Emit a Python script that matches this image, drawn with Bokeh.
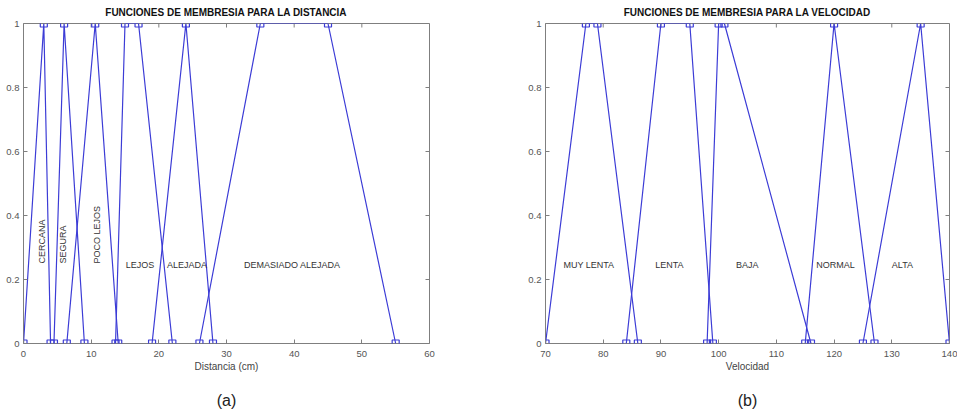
import math
from bokeh.plotting import figure
from bokeh.layouts import row
from bokeh.models import ColumnDataSource, FixedTicker, LinearAxis, Range1d
from bokeh.core.properties import value
from bokeh.embed import file_html
from bokeh.resources import INLINE

# ---------------- data: distance membership functions ----------------
dist_names = ["CERCANA", "SEGURA", "POCO LEJOS", "LEJOS", "ALEJADA", "DEMASIADO ALEJADA"]
dist_x = [
    [0, 3, 4],
    [4.5, 6, 9],
    [6.4, 10.6, 14],
    [13.6, 15, 17, 22],
    [19, 24, 28],
    [26, 35, 45, 55],
]
dist_y = [
    [0, 1, 0],
    [0, 1, 0],
    [0, 1, 0],
    [0, 1, 1, 0],
    [0, 1, 0],
    [0, 1, 1, 0],
]
dist_label_x = [2.8, 5.9, 10.8, 15.1, 21.2, 32.6]
dist_label_y = [0.25, 0.25, 0.25, 0.246, 0.246, 0.246]
dist_label_rot = [90, 90, 90, 0, 0, 0]
dist_xticks = [0, 10, 20, 30, 40, 50, 60]

# ---------------- data: speed membership functions ----------------
vel_names = ["MUY LENTA", "LENTA", "BAJA", "NORMAL", "ALTA"]
vel_x = [
    [70, 77, 79, 86],
    [84, 90, 95, 99],
    [98, 100, 101, 116],
    [115, 120, 127],
    [125, 135, 140],
]
vel_y = [
    [0, 1, 1, 0],
    [0, 1, 1, 0],
    [0, 1, 1, 0],
    [0, 1, 0],
    [0, 1, 0],
]
vel_label_x = [73.1, 89.0, 103.0, 116.9, 130.0]
vel_label_y = [0.246, 0.246, 0.246, 0.246, 0.246]
vel_xticks = [70, 80, 90, 100, 110, 120, 130, 140]

yticks = [0, 0.2, 0.4, 0.6, 0.8, 1]
ytick_labels = {0: "0", 0.2: "0.2", 0.4: "0.4", 0.6: "0.6", 0.8: "0.8", 1: "1"}

# horizontal centre (in x data units) of the (a)/(b) captions
caption_x = [31.5, 103.8]

FONT = "Liberation Sans"
BLUE = "#3c3cd6"
FRAME = "#7f7f7f"
TICKLBL = "#555555"
TICK_LEN = 4      # px, inward tick length
FRAME_H = 320     # px


def style_axis(ax, ticker):
    ax.ticker = ticker
    ax.major_tick_in = TICK_LEN
    ax.major_tick_out = 0
    ax.minor_tick_line_color = None
    ax.major_tick_line_color = FRAME
    ax.axis_line_color = None
    ax.major_label_text_font = FONT
    ax.major_label_text_font_size = "9.5px"
    ax.major_label_text_color = TICKLBL


def make_panel(title, xlabel, sub, sub_x, xs, ys, xr, xticks, lbl_x, lbl_y, lbl_rot, names,
               width, mbl, mbr):
    p = figure(width=width, height=414, output_backend="svg", toolbar_location=None,
               x_range=Range1d(*xr), y_range=Range1d(0, 1),
               min_border_left=mbl, min_border_right=mbr,
               min_border_top=23, min_border_bottom=71,
               x_axis_location=None, y_axis_location=None)
    p.grid.visible = False
    p.outline_line_color = FRAME
    p.outline_line_width = 1
    p.background_fill_color = "white"
    p.border_fill_color = "white"

    p.title.text = title
    p.title.text_font = FONT
    p.title.text_font_size = "10px"
    p.title.text_font_style = "bold"
    p.title.text_color = "#111111"
    p.title.align = "center"
    p.title.vertical_align = "top"
    p.title.standoff = 8

    xt = FixedTicker(ticks=xticks)
    yt = FixedTicker(ticks=yticks)

    bottom = LinearAxis(axis_label=xlabel)
    style_axis(bottom, xt)
    bottom.major_label_standoff = 7
    bottom.axis_label_text_font = FONT
    bottom.axis_label_text_font_size = "10px"
    bottom.axis_label_text_font_style = "normal"
    bottom.axis_label_text_color = "#444444"
    bottom.axis_label_standoff = 1
    p.add_layout(bottom, "below")

    # caption "(a)" / "(b)" under the panel (tick-less axis label)
    x0, x1 = xr
    half = min(sub_x - x0, x1 - sub_x)
    cap = LinearAxis(ticker=FixedTicker(ticks=[]), axis_label=sub,
                     bounds=(sub_x - half, sub_x + half))
    cap.axis_line_color = None
    cap.major_tick_in = 0
    cap.major_tick_out = 0
    cap.minor_tick_line_color = None
    cap.major_label_standoff = 0
    cap.axis_label_standoff = 17
    cap.axis_label_text_font = FONT
    cap.axis_label_text_font_size = "16px"
    cap.axis_label_text_font_style = "normal"
    cap.axis_label_text_color = "#222222"
    p.add_layout(cap, "below")

    left = LinearAxis(major_label_overrides=ytick_labels)
    style_axis(left, yt)
    left.major_label_standoff = 4
    p.add_layout(left, "left")

    # mirrored inward ticks on the top and right edges of the box
    frame_w = width - mbl - mbr
    dy = TICK_LEN / FRAME_H
    dx = TICK_LEN / frame_w * (x1 - x0)
    p.segment(x0=xticks, y0=[1] * len(xticks), x1=xticks, y1=[1 - dy] * len(xticks),
              line_color=FRAME, line_width=1)
    p.segment(x0=[x1] * len(yticks), y0=yticks, x1=[x1 - dx] * len(yticks), y1=yticks,
              line_color=FRAME, line_width=1)

    for x, y in zip(xs, ys):
        p.line(x, y, line_color=BLUE, line_width=1.2)
        p.scatter(x, y, marker="square", size=7, fill_color=None,
                  line_color=BLUE, line_width=1.2)

    src = ColumnDataSource(dict(x=lbl_x, y=lbl_y, t=names,
                                a=[math.radians(r) for r in lbl_rot]))
    p.text(x="x", y="y", text="t", angle="a", source=src,
           text_font=value(FONT), text_font_size="9px", text_color="#333333",
           text_align="left", text_baseline="middle")
    return p


p1 = make_panel("FUNCIONES DE MEMBRESIA PARA LA DISTANCIA", "Distancia (cm)", "(a)", caption_x[0],
                dist_x, dist_y, (0, 60), dist_xticks,
                dist_label_x, dist_label_y, dist_label_rot, dist_names,
                width=524, mbl=23, mbr=95)
p2 = make_panel("FUNCIONES DE MEMBRESIA PARA LA VELOCIDAD", "Velocidad", "(b)", caption_x[1],
                vel_x, vel_y, (70, 140), vel_xticks,
                vel_label_x, vel_label_y, [0] * len(vel_names), vel_names,
                width=433, mbl=21, mbr=8)

layout = row(p1, p2)
open("out.html", "w").write(file_html(layout, INLINE))
